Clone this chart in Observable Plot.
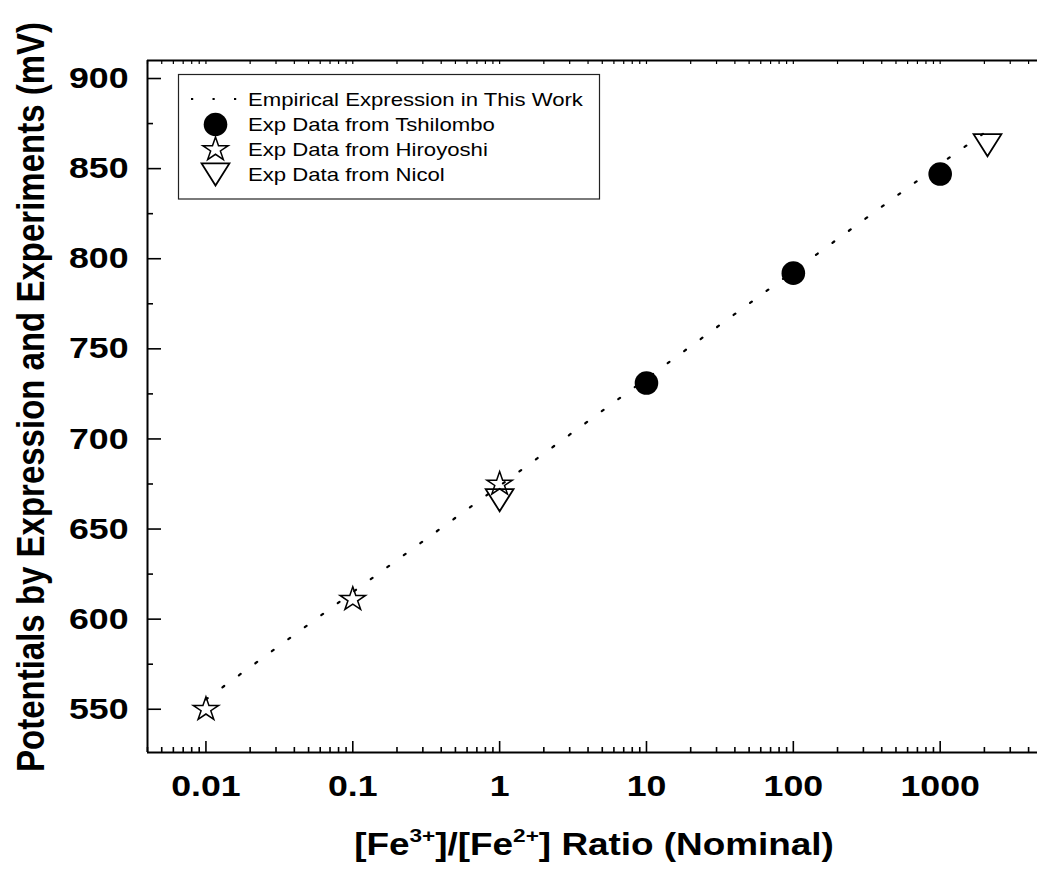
<!DOCTYPE html>
<html>
<head>
<meta charset="utf-8">
<script src="https://cdn.jsdelivr.net/npm/d3@7"></script>
<script src="https://cdn.jsdelivr.net/npm/@observablehq/plot@0.6"></script>
<style>
  html, body { margin: 0; padding: 0; background: #fff; }
  #chart svg { display: block; }
</style>
</head>
<body>
<div id="chart"></div>
<script>
// ---------------- DATA ----------------
const empiricalRatio     = [0.01, 0.1, 1, 10, 100, 1000, 2100];
const empiricalPotential = [555.5, 615, 674, 733.5, 793, 852.5, 871];

const tshilomboRatio     = [10, 100, 1000];
const tshilomboPotential = [731, 792, 847];

const hiroyoshiRatio     = [0.01, 0.1, 1];
const hiroyoshiPotential = [550, 611, 675];

const nicolRatio         = [1, 2100];
const nicolPotential     = [666, 863];

const xTickValues = [0.01, 0.1, 1, 10, 100, 1000];
const xTickLabels = ["0.01", "0.1", "1", "10", "100", "1000"];
const yTickValues = [550, 600, 650, 700, 750, 800, 850, 900];
const yTickLabels = ["550", "600", "650", "700", "750", "800", "850", "900"];
const yMinorValues = [575, 625, 675, 725, 775, 825, 875];

const seriesNames = [
  "Empirical Expression in This Work",
  "Exp Data from Tshilombo",
  "Exp Data from Hiroyoshi",
  "Exp Data from Nicol"
];
const yTitle = "Potentials by Expression and Experiments (mV)";
const xTitleParts = [["[Fe", false], ["3+", true], ["]/[Fe", false], ["2+", true], ["] Ratio (Nominal)", false]];

// ---------------- TABLES ----------------
const zip = (xs, ys) => xs.map((x, i) => ({x, y: ys[i]}));
const empirical = zip(empiricalRatio, empiricalPotential);
const tshilombo = zip(tshilomboRatio, tshilomboPotential);
const hiroyoshi = zip(hiroyoshiRatio, hiroyoshiPotential);
const nicol = zip(nicolRatio, nicolPotential);

const xDomain = [0.004, 4600];
const yDomain = [526, 910];

// minor log ticks (2..9 per decade) inside domain
const xMinor = [];
for (let e = -3; e <= 3; e++) for (let k = 2; k <= 9; k++) {
  const v = k * Math.pow(10, e);
  if (v >= xDomain[0] * 0.999 && v <= xDomain[1]) xMinor.push(v);
}
const xAll = xTickValues.concat(xMinor);

// ---------------- SYMBOLS ----------------
const starSym = {
  draw(ctx, size) {
    const r = Math.sqrt(size / Math.PI);
    const R = r, ri = r * 0.382, sx = 1.07;
    for (let i = 0; i < 10; i++) {
      const rad = i % 2 ? ri : R;
      const a = -Math.PI / 2 + i * Math.PI / 5;
      const px = Math.cos(a) * rad * sx, py = Math.sin(a) * rad;
      if (i === 0) ctx.moveTo(px, py); else ctx.lineTo(px, py);
    }
    ctx.closePath();
  }
};
const triDownSym = {
  draw(ctx, size) {
    const r = Math.sqrt(size / Math.PI);
    const hw = r * 1.13, hh = r * 0.9;
    ctx.moveTo(-hw, -hh);
    ctx.lineTo(hw, -hh);
    ctx.lineTo(0, hh);
    ctx.closePath();
  }
};

const FONT = "'Liberation Sans', Arial, Helvetica, sans-serif";
const SX = 1.19;

const svg = Plot.plot({
  width: 1037,
  height: 873,
  marginLeft: 147,
  marginRight: 0,
  marginTop: 60,
  marginBottom: 121,
  style: {fontFamily: FONT, background: "#fff", color: "#000", overflow: "visible"},
  x: {type: "log", domain: xDomain},
  y: {domain: yDomain},
  marks: [
    // frame lines
    Plot.ruleX([xDomain[0]], {stroke: "#000", strokeWidth: 2}),
    Plot.ruleY([yDomain[0]], {stroke: "#000", strokeWidth: 2}),
    Plot.ruleY([yDomain[1]], {stroke: "#000", strokeWidth: 2}),
    // y ticks (inward)
    Plot.axisY(yTickValues, {tickSize: 14, insetLeft: 14, fill: "none", label: null, strokeWidth: 1.6}),
    Plot.axisY(yMinorValues, {tickSize: 6, insetLeft: 6, fill: "none", label: null, strokeWidth: 1.6}),
    Plot.axisY(yTickValues, {tickSize: 0, tickPadding: 19, label: null, fontSize: 30, fontWeight: "bold",
      tickFormat: d => yTickLabels[yTickValues.indexOf(d)]}),
    // x ticks (inward)
    Plot.axisX(xTickValues, {tickSize: 11, insetBottom: 11, fill: "none", label: null, strokeWidth: 1.6}),
    Plot.axisX(xMinor, {tickSize: 5, insetBottom: 5, fill: "none", label: null, strokeWidth: 1.6}),
    Plot.axisX(xTickValues, {tickSize: 0, tickPadding: 22, label: null, fontSize: 30, fontWeight: "bold",
      tickFormat: d => xTickLabels[xTickValues.indexOf(d)]}),
    // top frame ticks
    Plot.axisX(xAll, {anchor: "top", tickSize: 3, insetTop: 3, fill: "none", label: null, strokeWidth: 1.2}),
    // data
    Plot.line(empirical, {x: "x", y: "y", stroke: "#000", strokeWidth: 2.2, strokeDasharray: "2.2,18.2"}),
    Plot.dot(tshilombo, {x: "x", y: "y", r: 11.8, fill: "#000", stroke: "none"}),
    Plot.dot(hiroyoshi, {x: "x", y: "y", r: 12.5, symbol: starSym, fill: "none", stroke: "#000", strokeWidth: 1.5}),
    Plot.dot(nicol, {x: "x", y: "y", r: 12.3, symbol: triDownSym, fill: "none", stroke: "#000", strokeWidth: 1.8})
  ]
});

document.getElementById("chart").appendChild(svg);

const root = d3.select(svg);

// tick labels: horizontal stretch (matches the reference glyph proportions)
root.selectAll('g[aria-label$="tick label"] text, g[aria-label$="tick-label"] text').each(function () {
  const tr = this.getAttribute("transform") || "";
  const x = this.getAttribute("x"), y = this.getAttribute("y");
  const nx = x !== null && !isNaN(+x) ? +x : 0;
  const ny = y !== null && !isNaN(+y) ? +y : 0;
  if (x !== null && !isNaN(+x)) this.removeAttribute("x");
  if (y !== null && !isNaN(+y)) this.removeAttribute("y");
  this.setAttribute("transform", `${tr} translate(${nx},${ny}) scale(${SX},1)`);
});

// axis titles
root.append("text")
  .attr("transform", `translate(44,397) scale(${SX},1) rotate(-90)`)
  .attr("text-anchor", "middle")
  .attr("font-family", FONT)
  .attr("font-size", 33)
  .attr("font-weight", "bold")
  .attr("fill", "#000")
  .text(yTitle);

const xl = root.append("text")
  .attr("transform", `translate(594,855) scale(${SX},1)`)
  .attr("text-anchor", "middle")
  .attr("font-family", FONT)
  .attr("font-size", 31)
  .attr("font-weight", "bold")
  .attr("fill", "#000");
let raised = false;
for (const [s, sup] of xTitleParts) {
  const t = xl.append("tspan").text(s);
  if (sup && !raised) { t.attr("font-size", 19).attr("dy", -13); raised = true; }
  else if (!sup && raised) { t.attr("dy", 13); raised = false; }
  else if (sup) t.attr("font-size", 19);
}

// legend
const lg = root.append("g").attr("aria-label", "legend");
lg.append("rect").attr("x", 178.5).attr("y", 74.5).attr("width", 421).attr("height", 124.5)
  .attr("fill", "#fff").attr("stroke", "#222").attr("stroke-width", 1.2);
const rowY = [99, 124.5, 149.5, 174.5];
const symX = 215.5;
lg.append("line").attr("x1", 191).attr("x2", 237).attr("y1", rowY[0]).attr("y2", rowY[0])
  .attr("stroke", "#000").attr("stroke-width", 2.2).attr("stroke-dasharray", "2.2,19.3");
lg.append("circle").attr("cx", symX).attr("cy", rowY[1]).attr("r", 11.8).attr("fill", "#000");
lg.append("path").attr("transform", `translate(${symX},${rowY[2]})`)
  .attr("d", d3.symbol().type(starSym).size(Math.PI * 12.5 * 12.5)())
  .attr("fill", "none").attr("stroke", "#000").attr("stroke-width", 1.5);
lg.append("path").attr("transform", `translate(${symX},${rowY[3]})`)
  .attr("d", d3.symbol().type(triDownSym).size(Math.PI * 12.3 * 12.3)())
  .attr("fill", "none").attr("stroke", "#000").attr("stroke-width", 1.8);
seriesNames.forEach((name, i) => {
  lg.append("text")
    .attr("transform", `translate(248,${rowY[i] + 6.6}) scale(${SX},1)`)
    .attr("text-anchor", "start")
    .attr("font-family", FONT)
    .attr("font-size", 18.6)
    .attr("fill", "#000")
    .text(name);
});
</script>
</body>
</html>
